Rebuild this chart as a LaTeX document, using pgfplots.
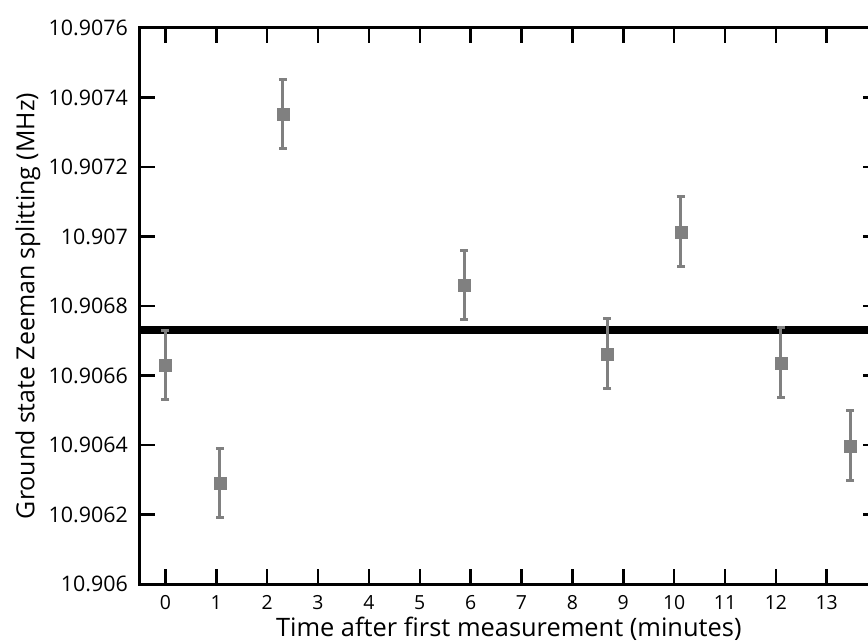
\documentclass[border=0pt]{standalone}
\usepackage{pgfplots}
\usepackage{pgfplotstable}
\pgfplotsset{compat=1.18}
\usepackage{fontspec}
\setmainfont{Open Sans}
\definecolor{ptgray}{RGB}{128,128,128}
% y = frequency offset above 10.906 MHz, in kHz (i.e. 10.906 + y/1000 MHz)
\pgfplotstableread{
x      y      e
0.00   0.630  0.1
1.07   0.291  0.1
2.31   1.353  0.1
5.87   0.861  0.1
8.69   0.663  0.1
10.13  1.014  0.1
12.10  0.637  0.1
13.46  0.398  0.1
}\datatable
\pgfplotstableread{
x      y
-0.5   0.732
14.0   0.732
}\meanline
\begin{document}
\begin{tikzpicture}
\begin{axis}[
  scale only axis,
  width=737.6bp, height=556bp,
  xmin=-0.5, xmax=14, ymin=0, ymax=1.6,
  xtick={0,1,2,3,4,5,6,7,8,9,10,11,12,13},
  ytick={0,0.2,0.4,0.6,0.8,1.0,1.2,1.4,1.6},
  yticklabels={10.906,10.9062,10.9064,10.9066,10.9068,10.907,10.9072,10.9074,10.9076},
  /pgf/number format/assume math mode=true,
  tick align=inside,
  major tick length=15bp,
  axis line style={line width=3bp, black},
  tick style={line width=2.5bp, black},
  xticklabel style={font=\fontsize{19.5}{23}\selectfont, inner sep=0pt, anchor=base, yshift=-25bp},
  yticklabel style={font=\fontsize{21.5}{25}\selectfont, inner sep=0pt, anchor=east, xshift=-12bp},
  xlabel={Time after first measurement (minutes)},
  ylabel={Ground state Zeeman splitting (MHz)},
  xlabel style={font=\fontsize{25.5}{29}\selectfont, inner sep=0pt, at={(axis description cs:0.5,0)}, anchor=base, yshift=-52bp},
  ylabel style={font=\fontsize{25}{29}\selectfont, inner sep=0pt, at={(axis description cs:0,0.5)}, anchor=center, yshift=112bp},
  clip=false,
]
\addplot[black, line width=8bp, no marks] table[x=x, y=y] {\meanline};
\addplot[only marks, mark=square*, mark size=6bp, color=ptgray,
  mark options={draw=ptgray, fill=ptgray, line width=0.1bp},
  error bars/.cd, y dir=both, y explicit,
  error mark=|,
  error bar style={line width=3bp, ptgray},
  error mark options={draw=ptgray, line width=3bp, mark size=4bp}]
  table[x=x, y=y, y error=e] {\datatable};
\end{axis}
\pgfresetboundingbox
\path[use as bounding box] (-140bp,-59bp) rectangle (728bp,584bp);
\end{tikzpicture}
\end{document}
